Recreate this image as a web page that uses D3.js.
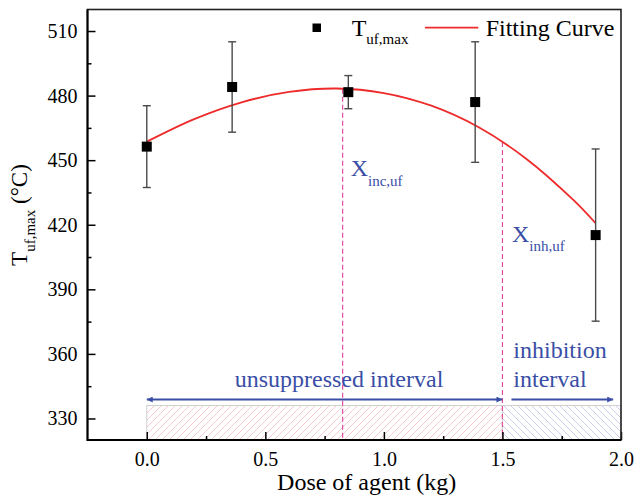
<!DOCTYPE html>
<html>
<head>
<meta charset="utf-8">
<script src="https://cdn.jsdelivr.net/npm/d3@7"></script>
<style>
  html, body { margin: 0; padding: 0; background: #fff; }
  svg { display: block; font-family: "Liberation Serif", "Times New Roman", serif; }
</style>
</head>
<body>
<svg id="chart" width="636" height="496"></svg>
<script>
// ---- Data ----
const doses = [0.0, 0.36, 0.85, 1.385, 1.893];          // Dose of agent (kg)
const tufMax = [456.3, 484.0, 481.6, 477.0, 415.2];     // T_uf,max (°C)
const tufErr = [19, 21, 7.7, 28, 40];                    // error bar half-widths

// Fitting curve
const fitDose = [0.0, 0.2, 0.4, 0.6, 0.8, 1.0, 1.2, 1.4, 1.6, 1.8, 1.893];
const fitTemp = [458.6, 469.1, 476.9, 481.7, 483.3, 481.2, 475.3, 465.3, 450.7, 431.4, 420.7];

const xMajorTicks = [0.0, 0.5, 1.0, 1.5, 2.0];
const xMinorTicks = [0.25, 0.75, 1.25, 1.75];
const yMajorTicks = [330, 360, 390, 420, 450, 480, 510];
const yMinorTicks = [345, 375, 405, 435, 465, 495];

const xIncUf = 0.826, yIncUf = 483.2;   // X_inc,uf (peak)
const xInhUf = 1.5, yInhUf = 458.4;     // X_inh,uf
const hatchTop = 336;                    // top of the hatched band (°C)

// ---- Layout ----
const svg = d3.select("#chart");
const L = 87.5, R = 621, T = 9.5, B = 440;
const x = d3.scaleLinear().domain([-0.25, 2.0]).range([L, R]);
const y = d3.scaleLinear().domain([320, 520]).range([B, T]);

const blue = "#3a4ea6";
const red = "#ee2a2a";
const magenta = "#e0509f";

// patterns
const defs = svg.append("defs");
const pPink = defs.append("pattern").attr("id", "hatchPink")
  .attr("patternUnits", "userSpaceOnUse").attr("width", 7).attr("height", 7);
pPink.append("path").attr("d", "M-1,1 l2,-2 M0,7 l7,-7 M6,8 l2,-2")
  .attr("stroke", "#f08898").attr("stroke-opacity", 0.55).attr("stroke-width", 0.8);
const pBlue = defs.append("pattern").attr("id", "hatchBlue")
  .attr("patternUnits", "userSpaceOnUse").attr("width", 7).attr("height", 7);
pBlue.append("path").attr("d", "M-1,6 l2,2 M0,0 l7,7 M6,-1 l2,2")
  .attr("stroke", "#8088d0").attr("stroke-opacity", 0.5).attr("stroke-width", 0.8);

const marker = defs.append("marker").attr("id", "arrowHead")
  .attr("viewBox", "0 0 10 10").attr("refX", 10).attr("refY", 5)
  .attr("markerWidth", 10).attr("markerHeight", 6)
  .attr("markerUnits", "userSpaceOnUse").attr("orient", "auto-start-reverse");
marker.append("path").attr("d", "M0,0 L10,5 L0,10 Z").attr("fill", blue);

// hatched bands
svg.append("rect")
  .attr("x", x(0)).attr("y", y(hatchTop))
  .attr("width", x(1.5) - x(0)).attr("height", B - y(hatchTop))
  .attr("fill", "url(#hatchPink)").attr("stroke", "#cfcfcf").attr("stroke-width", 1);
svg.append("rect")
  .attr("x", x(1.5)).attr("y", y(hatchTop))
  .attr("width", x(2.0) - x(1.5)).attr("height", B - y(hatchTop))
  .attr("fill", "url(#hatchBlue)").attr("stroke", "#cfcfcf").attr("stroke-width", 1);

// dashed vertical lines
[[xIncUf, yIncUf], [xInhUf, yInhUf]].forEach(([dx, dy]) => {
  svg.append("line")
    .attr("x1", x(dx)).attr("x2", x(dx))
    .attr("y1", y(dy)).attr("y2", B)
    .attr("stroke", magenta).attr("stroke-width", 1.2)
    .attr("stroke-dasharray", "5,3");
});

// arrows
svg.append("line")
  .attr("x1", x(0)).attr("x2", x(1.5))
  .attr("y1", y(338.8)).attr("y2", y(338.8))
  .attr("stroke", blue).attr("stroke-width", 2)
  .attr("marker-start", "url(#arrowHead)").attr("marker-end", "url(#arrowHead)");
svg.append("line")
  .attr("x1", x(1.538)).attr("x2", x(1.967))
  .attr("y1", y(338.8)).attr("y2", y(338.8))
  .attr("stroke", blue).attr("stroke-width", 2)
  .attr("marker-end", "url(#arrowHead)");

// annotation texts
svg.append("text").attr("x", 339).attr("y", 386.7)
  .attr("text-anchor", "middle").attr("font-size", 24).attr("fill", blue)
  .text("unsuppressed interval");
svg.append("text").attr("x", 513.3).attr("y", 358.3)
  .attr("font-size", 24).attr("fill", blue).text("inhibition");
svg.append("text").attr("x", 513.3).attr("y", 386.7)
  .attr("font-size", 24).attr("fill", blue).text("interval");

function subText(g, px, py, main, sub, size, subSize, dy, color) {
  const t = g.append("text").attr("x", px).attr("y", py)
    .attr("font-size", size).attr("fill", color);
  t.append("tspan").text(main);
  t.append("tspan").attr("font-size", subSize).attr("dy", dy).text(sub);
  return t;
}
subText(svg, 350.7, 176, "X", "inc,uf", 24, 15, 10, blue);
subText(svg, 512, 241.7, "X", "inh,uf", 24, 15, 9, blue);

// fitting curve
const fitPts = fitDose.map((d, i) => [d, fitTemp[i]]);
svg.append("path")
  .datum(fitPts)
  .attr("fill", "none").attr("stroke", red).attr("stroke-width", 1.8)
  .attr("d", d3.line().x(d => x(d[0])).y(d => y(d[1])).curve(d3.curveCatmullRom));

// error bars
const pts = doses.map((d, i) => ({ d, t: tufMax[i], e: tufErr[i] }));
const eg = svg.append("g").attr("stroke", "#4a4a4a").attr("stroke-width", 1.4);
pts.forEach(p => {
  eg.append("line").attr("x1", x(p.d)).attr("x2", x(p.d))
    .attr("y1", y(p.t + p.e)).attr("y2", y(p.t - p.e));
  [p.t + p.e, p.t - p.e].forEach(v => {
    eg.append("line").attr("x1", x(p.d) - 4).attr("x2", x(p.d) + 4)
      .attr("y1", y(v)).attr("y2", y(v));
  });
});
// markers
svg.append("g").selectAll("rect").data(pts).join("rect")
  .attr("x", p => x(p.d) - 5).attr("y", p => y(p.t) - 5)
  .attr("width", 10).attr("height", 10).attr("fill", "#000");

// axes (ticks inward)
const fmtX = d3.format(".1f");
const xAxis = svg.append("g").attr("transform", `translate(0,${B})`)
  .call(d3.axisBottom(x).tickValues(xMajorTicks).tickSize(-8).tickPadding(12).tickFormat(fmtX));
svg.append("g").attr("transform", `translate(0,${B})`)
  .call(d3.axisBottom(x).tickValues(xMinorTicks).tickSize(-4).tickFormat(""));
const yAxis = svg.append("g").attr("transform", `translate(${L},0)`)
  .call(d3.axisLeft(y).tickValues(yMajorTicks).tickSize(-8).tickPadding(10).tickFormat(d3.format("d")));
svg.append("g").attr("transform", `translate(${L},0)`)
  .call(d3.axisLeft(y).tickValues(yMinorTicks).tickSize(-4).tickFormat(""));

svg.selectAll(".domain").remove();
svg.selectAll(".tick line").attr("stroke", "#000").attr("stroke-width", 1.5);
xAxis.selectAll("text").attr("font-size", 20).attr("font-family", "Liberation Serif").attr("fill", "#000");
yAxis.selectAll("text").attr("font-size", 20).attr("font-family", "Liberation Serif").attr("fill", "#000");

// frame
svg.append("rect").attr("x", L).attr("y", T).attr("width", R - L).attr("height", B - T)
  .attr("fill", "none").attr("stroke", "#222").attr("stroke-width", 1.6);
svg.append("path").attr("d", `M${L},${T} V${B} H${R}`)
  .attr("fill", "none").attr("stroke", "#000").attr("stroke-width", 2);

// axis titles
svg.append("text").attr("x", 366.7).attr("y", 490)
  .attr("text-anchor", "middle").attr("font-size", 24).attr("fill", "#000")
  .text("Dose of agent (kg)");
const yt = svg.append("text").attr("transform", "translate(27,215) rotate(-90)")
  .attr("text-anchor", "middle").attr("font-size", 23).attr("fill", "#000");
yt.append("tspan").text("T");
yt.append("tspan").attr("font-size", 15).attr("dy", 8).text("uf,max");
yt.append("tspan").attr("dy", -8).text(" (°C)");

// legend
svg.append("rect").attr("x", 312.5).attr("y", 23.5).attr("width", 8.5).attr("height", 8.5).attr("fill", "#000");
subText(svg, 351.7, 35.7, "T", "uf,max", 24, 15, 8, "#000");
svg.append("line").attr("x1", 425).attr("x2", 478.3).attr("y1", 27.7).attr("y2", 27.7)
  .attr("stroke", red).attr("stroke-width", 1.8);
svg.append("text").attr("x", 485.7).attr("y", 35.7).attr("font-size", 24).attr("fill", "#000")
  .text("Fitting Curve");
</script>
</body>
</html>
